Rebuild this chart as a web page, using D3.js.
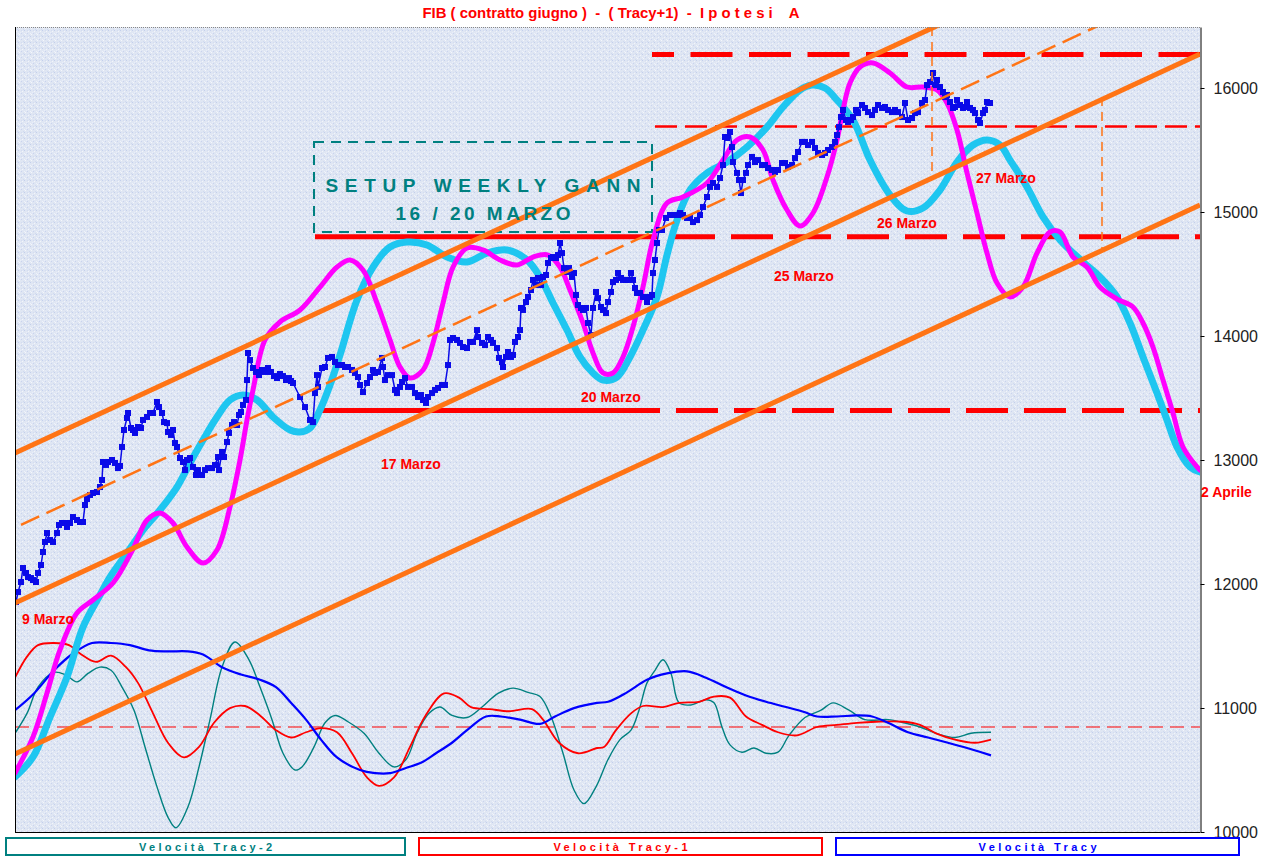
<!DOCTYPE html>
<html><head><meta charset="utf-8">
<script src="https://cdn.jsdelivr.net/npm/d3@7"></script>
<style>body{margin:0;background:#fff;}svg{display:block}.pre{white-space:pre}</style>
</head><body>
<svg id="c" width="1273" height="859"></svg>
<script>
// ---------- DATA (t = time index, v = FIB points) ----------
const yTicks = [10000, 11000, 12000, 13000, 14000, 15000, 16000];

const price = [[1,11855],[3,11935],[6,12016],[8,12129],[11,12089],[13,12056],[16,12048],[18,12032],[21,12016],[23,12089],[26,12153],[28,12258],[30,12339],[32,12411],[35,12355],[38,12339],[42,12411],[44,12476],[47,12492],[50,12492],[52,12460],[55,12492],[58,12540],[62,12516],[65,12500],[68,12500],[70,12637],[72,12685],[75,12718],[78,12734],[82,12742],[85,12782],[87,12839],[88,12984],[91,12960],[93,12984],[97,13000],[100,12976],[103,12935],[105,12952],[107,13105],[109,13242],[112,13339],[113,13379],[116,13258],[118,13242],[120,13218],[123,13266],[126,13258],[128,13323],[132,13347],[135,13379],[138,13379],[142,13468],[144,13427],[147,13379],[149,13306],[152,13298],[153,13226],[156,13202],[158,13242],[160,13137],[162,13105],[165,13016],[168,12984],[170,12919],[172,13000],[175,13016],[178,12944],[181,12879],[183,12919],[187,12879],[190,12919],[193,12935],[197,12935],[200,12960],[203,13024],[204,12919],[207,13065],[209,13024],[212,13145],[214,13218],[217,13282],[219,13306],[222,13282],[224,13363],[226,13387],[228,13444],[231,13484],[232,13645],[233,13863],[235,13806],[238,13742],[241,13710],[244,13685],[247,13726],[250,13710],[253,13742],[256,13710],[259,13677],[262,13661],[265,13694],[268,13677],[271,13645],[274,13661],[276,13637],[278,13621],[285,13508],[290,13427],[295,13323],[298,13306],[300,13540],[302,13685],[303,13589],[307,13742],[310,13750],[313,13823],[317,13831],[320,13790],[323,13766],[327,13766],[330,13750],[333,13750],[337,13726],[340,13702],[343,13669],[345,13605],[348,13548],[352,13621],[355,13669],[358,13726],[360,13702],[363,13710],[367,13823],[368,13750],[370,13645],[373,13685],[377,13685],[380,13565],[382,13540],[385,13589],[387,13629],[390,13661],[393,13589],[397,13589],[400,13540],[403,13508],[406,13524],[408,13484],[411,13460],[413,13508],[417,13540],[420,13565],[423,13581],[427,13605],[430,13605],[433,13766],[435,13968],[438,13984],[442,13968],[445,13944],[448,13911],[452,13903],[455,13952],[458,13952],[462,14048],[463,13992],[467,13944],[470,13927],[473,13992],[476,13968],[478,13944],[482,13903],[484,13823],[487,13790],[488,13750],[491,13831],[493,13871],[496,13831],[498,13847],[500,13952],[503,13992],[505,14048],[506,14226],[508,14210],[511,14274],[513,14315],[516,14371],[518,14452],[521,14411],[523,14468],[526,14411],[528,14476],[531,14492],[533,14589],[536,14629],[538,14637],[541,14629],[543,14653],[545,14750],[547,14669],[549,14548],[552,14516],[554,14548],[557,14476],[559,14508],[561,14331],[563,14250],[566,14226],[568,14210],[571,14226],[573,14105],[576,14008],[578,14226],[581,14355],[583,14306],[586,14234],[588,14210],[591,14185],[593,14274],[596,14355],[598,14435],[601,14452],[603,14508],[606,14468],[608,14452],[611,14452],[613,14452],[616,14508],[618,14452],[620,14387],[622,14347],[625,14347],[628,14315],[630,14315],[632,14274],[635,14315],[637,14331],[638,14508],[640,14613],[642,14750],[644,14855],[647,14855],[651,14952],[655,14976],[658,14976],[662,14976],[665,14992],[668,14976],[672,14952],[675,14952],[678,14919],[682,14935],[685,14976],[688,15040],[692,15121],[695,15202],[698,15234],[702,15202],[705,15274],[708,15379],[710,15605],[712,15597],[715,15645],[717,15524],[718,15403],[722,15315],[724,15258],[726,15153],[728,15258],[731,15315],[733,15379],[737,15444],[740,15403],[743,15419],[747,15379],[750,15379],[753,15355],[757,15339],[760,15323],[763,15339],[767,15395],[770,15395],[773,15363],[777,15379],[780,15435],[783,15484],[787,15565],[790,15565],[793,15540],[797,15565],[800,15516],[803,15476],[807,15460],[810,15476],[813,15500],[817,15524],[820,15565],[822,15621],[824,15685],[826,15766],[828,15823],[831,15742],[833,15726],[836,15742],[838,15766],[841,15823],[843,15798],[847,15863],[850,15839],[853,15806],[857,15782],[860,15823],[863,15863],[867,15839],[870,15847],[873,15823],[877,15806],[880,15823],[883,15806],[887,15766],[890,15879],[893,15742],[897,15758],[900,15798],[903,15806],[907,15879],[910,15903],[912,16024],[915,16048],[918,16121],[920,16024],[922,16065],[925,16008],[928,15968],[930,15927],[932,15944],[935,15887],[938,15839],[940,15847],[942,15903],[945,15863],[948,15839],[950,15847],[952,15887],[955,15839],[958,15823],[960,15798],[963,15742],[965,15718],[968,15798],[970,15823],[972,15887],[975,15879]];

const tracyCyan = [[0,10444],[18,10605],[35,10927],[52,11250],[68,11653],[85,11911],[95,12056],[112,12250],[128,12435],[145,12597],[162,12782],[175,12976],[188,13161],[202,13347],[215,13484],[228,13524],[242,13484],[258,13347],[275,13242],[285,13226],[295,13258],[305,13403],[315,13605],[325,13847],[342,14290],[358,14556],[375,14718],[392,14758],[412,14734],[432,14637],[452,14597],[472,14669],[492,14694],[512,14613],[525,14476],[538,14266],[552,14048],[565,13831],[578,13702],[588,13645],[602,13669],[615,13831],[628,14048],[642,14315],[652,14653],[662,14935],[675,15177],[692,15315],[712,15403],[732,15524],[752,15685],[768,15847],[785,15984],[797,16024],[810,16000],[822,15903],[838,15742],[855,15419],[875,15137],[892,15008],[908,15032],[925,15177],[942,15403],[958,15540],[972,15581],[985,15540],[995,15419],[1012,15202],[1028,14960],[1045,14774],[1068,14597],[1085,14476],[1102,14315],[1115,14105],[1128,13831],[1142,13540],[1152,13323],[1162,13105],[1175,12944],[1185,12903]];

const tracyMagenta = [[0,10476],[18,10766],[32,11121],[45,11468],[62,11766],[78,11871],[98,12008],[118,12282],[132,12516],[145,12573],[158,12492],[172,12298],[188,12169],[202,12274],[215,12621],[225,13000],[232,13323],[238,13565],[250,13968],[265,14113],[285,14210],[305,14395],[322,14556],[335,14613],[348,14532],[362,14266],[375,13968],[385,13750],[395,13661],[408,13726],[418,13944],[428,14266],[438,14556],[452,14710],[468,14694],[485,14613],[502,14573],[518,14637],[533,14653],[545,14556],[555,14371],[568,14105],[578,13863],[588,13702],[598,13702],[608,13831],[618,14073],[628,14395],[638,14774],[652,15073],[668,15121],[692,15234],[708,15419],[722,15581],[735,15605],[748,15500],[758,15258],[772,15016],[785,14887],[798,14992],[812,15282],[822,15581],[828,15823],[835,16040],[845,16169],[858,16202],[875,16121],[892,16008],[908,16008],[922,15984],[932,15879],[942,15661],[952,15315],[962,14992],[972,14669],[982,14427],[995,14315],[1008,14395],[1022,14669],[1035,14839],[1045,14839],[1058,14637],[1072,14556],[1085,14395],[1102,14298],[1118,14234],[1128,14105],[1138,13911],[1148,13645],[1158,13379],[1168,13105],[1182,12944],[1185,12919]];

const velTracy = [[0,0.16],[19,0.32],[39,0.54],[58,0.70],[77,0.80],[96,0.80],[115,0.78],[134,0.73],[153,0.72],[173,0.72],[188,0.69],[207,0.57],[226,0.50],[245,0.45],[261,0.38],[276,0.23],[291,0.07],[306,-0.12],[322,-0.29],[345,-0.41],[360,-0.44],[375,-0.44],[391,-0.39],[406,-0.34],[421,-0.25],[437,-0.15],[452,-0.03],[471,0.10],[486,0.10],[505,0.07],[525,0.03],[540,0.10],[559,0.18],[582,0.23],[593,0.24],[612,0.33],[632,0.45],[652,0.51],[672,0.53],[691,0.47],[711,0.38],[731,0.30],[751,0.24],[771,0.19],[790,0.14],[802,0.10],[822,0.10],[842,0.11],[857,0.10],[873,0.04],[893,-0.05],[913,-0.10],[933,-0.15],[952,-0.20],[976,-0.27]];

const velTracy1 = [[0,0.47],[12,0.67],[23,0.78],[39,0.80],[54,0.78],[65,0.70],[81,0.62],[96,0.68],[111,0.57],[123,0.42],[138,0.13],[153,-0.15],[169,-0.29],[184,-0.19],[199,0.04],[215,0.18],[230,0.20],[245,0.11],[261,-0.03],[276,-0.10],[291,-0.05],[306,-0.01],[322,-0.05],[337,-0.25],[352,-0.48],[364,-0.56],[379,-0.48],[395,-0.19],[410,0.10],[429,0.32],[444,0.28],[456,0.19],[475,0.17],[494,0.15],[517,0.17],[528,0.07],[544,-0.15],[563,-0.25],[582,-0.20],[589,-0.19],[601,-0.03],[616,0.13],[628,0.20],[648,0.19],[664,0.23],[684,0.24],[699,0.29],[715,0.28],[731,0.10],[747,0.02],[763,-0.05],[782,-0.08],[802,0.00],[822,0.02],[842,0.04],[861,0.05],[889,0.05],[905,0.02],[921,-0.06],[940,-0.12],[960,-0.15],[976,-0.12]];

const velTracy2 = [[0,-0.06],[12,0.13],[23,0.38],[39,0.52],[50,0.50],[62,0.43],[73,0.51],[85,0.57],[96,0.54],[107,0.38],[119,0.16],[130,-0.19],[142,-0.57],[153,-0.86],[161,-0.96],[173,-0.76],[184,-0.38],[195,0.07],[207,0.57],[220,0.81],[234,0.64],[245,0.38],[257,0.07],[268,-0.25],[280,-0.41],[287,-0.38],[299,-0.19],[310,0.04],[320,0.11],[333,0.05],[349,-0.06],[364,-0.25],[379,-0.38],[391,-0.31],[402,-0.06],[414,0.13],[425,0.19],[437,0.11],[452,0.09],[467,0.19],[483,0.32],[498,0.37],[513,0.33],[525,0.29],[536,0.10],[548,-0.25],[559,-0.60],[569,-0.73],[581,-0.57],[593,-0.31],[605,-0.12],[616,-0.03],[624,0.16],[632,0.42],[640,0.54],[648,0.64],[656,0.51],[664,0.23],[676,0.21],[691,0.26],[699,0.23],[707,0.00],[715,-0.17],[727,-0.24],[739,-0.20],[751,-0.25],[763,-0.24],[774,-0.08],[790,0.09],[806,0.16],[818,0.23],[834,0.16],[850,0.07],[873,0.07],[889,0.04],[905,0.00],[921,-0.06],[940,-0.10],[956,-0.06],[976,-0.05]];

// Gann channel (parallel lines) and middle dashed line
const channelUpper = [[0,13056],[1185,17484]];
const channelMid   = [[0,11847],[1185,16274]];
const channelLow   = [[0,10629],[1185,15056]];
const channelDash  = [[6,12477],[1185,16882]];
// red support/resistance levels
const levelsSolidThenDash = [{v:14800, from:300, solidTo:642}, {v:13400, from:305, solidTo:645}];
const levelsDashedThick = [{v:16270, from:637}];
const levelsDashedThin  = [{v:15690, from:640}];
// orange vertical markers
const verticals = [{t:917, v0:16492, v1:15282}, {t:1087, v0:15927, v1:14710}];
// date labels
const dateLabels = [
  {text:"9 Marzo", t:7, v:11677},
  {text:"17 Marzo", t:366, v:12927},
  {text:"20 Marzo", t:566, v:13468},
  {text:"25 Marzo", t:759, v:14444},
  {text:"26 Marzo", t:862, v:14871},
  {text:"27 Marzo", t:961, v:15234},
  {text:"2 Aprile", t:1186, v:12702}
];
const setupBox = {t0:299, t1:637, v0:15565, v1:14839, line1:"SETUP WEEKLY GANN", line2:"16 / 20 MARZO", tc:468, b1:15161, b2:14935};
const legendItems = [
  {label:"Velocità Tracy-2", color:"#008080"},
  {label:"Velocità Tracy-1", color:"#ff0000"},
  {label:"Velocità Tracy", color:"#0000ff"}
];
const title = "FIB ( contratto giugno )  -  ( Tracy+1)  -  I p o t e s i    A";

// ---------- CHART ----------
const svg = d3.select("#c");
const L = 15, R = 1200, T = 27, B = 832;
const x = d3.scaleLinear().domain([0, 1185]).range([L, R]);
const y = d3.scaleLinear().domain([10000, 16492]).range([B, T]);
const yv = d3.scaleLinear().domain([-1, 1]).range([B, 622]);
const FONT = "'Liberation Sans', Arial, sans-serif";

const defs = svg.append("defs");
const pat = defs.append("pattern").attr("id","tex").attr("width",6).attr("height",6).attr("patternUnits","userSpaceOnUse");
pat.append("rect").attr("width",6).attr("height",6).attr("fill","#dfe6f3");
[[0,0,"#c3cfec"],[3,3,"#c9d3ef"],[1,4,"#f4f6fc"],[4,1,"#f2f5fb"],[2,2,"#e9eef9"],[5,5,"#d0daf0"],[0,3,"#eef2fa"],[3,0,"#d3dcf1"]].forEach(d=>
  pat.append("rect").attr("x",d[0]).attr("y",d[1]).attr("width",1).attr("height",1).attr("fill",d[2]));
defs.append("clipPath").attr("id","clip").append("rect").attr("x",L).attr("y",T).attr("width",R-L).attr("height",B-T);

svg.append("rect").attr("x",L).attr("y",T).attr("width",R-L).attr("height",B-T).attr("fill","url(#tex)");

// title
svg.append("text").attr("class","pre").attr("x",611).attr("y",18).attr("text-anchor","middle")
  .attr("font-family",FONT).attr("font-weight","bold").attr("font-size",14).attr("fill","#ff0000")
  .attr("textLength",377).attr("lengthAdjust","spacingAndGlyphs").text(title);

const g = svg.append("g").attr("clip-path","url(#clip)");

const lineP = d3.line().x(d=>x(d[0])).y(d=>y(d[1]));
const lineC = d3.line().x(d=>x(d[0])).y(d=>y(d[1])).curve(d3.curveCatmullRom.alpha(0.5));
const lineV = d3.line().x(d=>x(d[0])).y(d=>yv(d[1])).curve(d3.curveCatmullRom.alpha(0.5));

// velocity zero line
g.append("line").attr("x1",x(0)).attr("x2",x(1185)).attr("y1",yv(0)).attr("y2",yv(0))
  .attr("stroke","#ff0000").attr("stroke-width",1).attr("stroke-dasharray","14,7");

// oscillators
g.append("path").datum(velTracy2).attr("d",lineV).attr("fill","none").attr("stroke","#008080").attr("stroke-width",1.4);
g.append("path").datum(velTracy1).attr("d",lineV).attr("fill","none").attr("stroke","#ff0000").attr("stroke-width",1.8);
g.append("path").datum(velTracy).attr("d",lineV).attr("fill","none").attr("stroke","#0000ff").attr("stroke-width",2.2);

// red levels
levelsSolidThenDash.forEach(l=>{
  g.append("line").attr("x1",x(l.from)).attr("x2",x(l.solidTo)).attr("y1",y(l.v)).attr("y2",y(l.v))
    .attr("stroke","#ff0000").attr("stroke-width",5);
  g.append("line").attr("x1",x(l.solidTo)).attr("x2",x(1185)).attr("y1",y(l.v)).attr("y2",y(l.v))
    .attr("stroke","#ff0000").attr("stroke-width",5).attr("stroke-dasharray","0,16,42,0");
});
levelsDashedThick.forEach(l=>{
  g.append("line").attr("x1",x(l.from)).attr("x2",x(1185)).attr("y1",y(l.v)).attr("y2",y(l.v))
    .attr("stroke","#ff0000").attr("stroke-width",5).attr("stroke-dasharray","42,16.5").attr("stroke-dashoffset",20);
});
levelsDashedThin.forEach(l=>{
  g.append("line").attr("x1",x(l.from)).attr("x2",x(1185)).attr("y1",y(l.v)).attr("y2",y(l.v))
    .attr("stroke","#ff0000").attr("stroke-width",2.5).attr("stroke-dasharray","22,8");
});

// setup box
g.append("rect").attr("x",x(setupBox.t0)).attr("y",y(setupBox.v0))
  .attr("width",x(setupBox.t1)-x(setupBox.t0)).attr("height",y(setupBox.v1)-y(setupBox.v0))
  .attr("fill","none").attr("stroke","#008080").attr("stroke-width",2).attr("stroke-dasharray","10,7");
svg.append("text").attr("x",x(setupBox.tc)).attr("y",y(setupBox.b1)).attr("text-anchor","middle")
  .attr("font-family",FONT).attr("font-weight","bold").attr("font-size",19).attr("fill","#008080")
  .attr("textLength",315).attr("lengthAdjust","spacing").text(setupBox.line1);
svg.append("text").attr("x",x(setupBox.tc)).attr("y",y(setupBox.b2)).attr("text-anchor","middle")
  .attr("font-family",FONT).attr("font-weight","bold").attr("font-size",19).attr("fill","#008080")
  .attr("textLength",175).attr("lengthAdjust","spacing").text(setupBox.line2);

// tracy curves
g.append("path").datum(tracyCyan).attr("d",lineC).attr("fill","none").attr("stroke","#1ec6f0")
  .attr("stroke-width",7).attr("stroke-linecap","round").attr("stroke-linejoin","round");
g.append("path").datum(tracyMagenta).attr("d",lineC).attr("fill","none").attr("stroke","#ff00ff")
  .attr("stroke-width",5).attr("stroke-linecap","round").attr("stroke-linejoin","round");

// price
g.append("path").datum(price).attr("d",lineP).attr("fill","none").attr("stroke","#0a0ae8").attr("stroke-width",1.5);
g.selectAll("rect.pt").data(price).join("rect").attr("class","pt")
  .attr("x",d=>x(d[0])-3).attr("y",d=>y(d[1])-3).attr("width",6).attr("height",6).attr("fill","#0a0ae8");

// orange channel
const OR = "#ff7415";
[channelUpper, channelMid, channelLow].forEach(c=>
  g.append("path").datum(c).attr("d",lineP).attr("fill","none").attr("stroke",OR).attr("stroke-width",5));
g.append("path").datum(channelDash).attr("d",lineP).attr("fill","none").attr("stroke",OR).attr("stroke-width",2.5).attr("stroke-dasharray","20,8");
verticals.forEach(vl=>
  g.append("line").attr("x1",x(vl.t)).attr("x2",x(vl.t)).attr("y1",y(vl.v0)).attr("y2",y(vl.v1))
   .attr("stroke",OR).attr("stroke-width",1.5).attr("stroke-dasharray","9,6"));

// frame
svg.append("line").attr("x1",L).attr("x2",R).attr("y1",T+0.5).attr("y2",T+0.5).attr("stroke","#888").attr("stroke-dasharray","1,1");
svg.append("line").attr("x1",L+0.5).attr("x2",L+0.5).attr("y1",T).attr("y2",B).attr("stroke","#000");
svg.append("line").attr("x1",L).attr("x2",R).attr("y1",B+0.5).attr("y2",B+0.5).attr("stroke","#000");

// right axis
const ax = svg.append("g").attr("transform",`translate(${R+0.5},0)`)
  .call(d3.axisRight(y).tickValues(yTicks).tickSize(4).tickSizeOuter(0).tickPadding(9).tickFormat(d3.format("d")));
ax.selectAll("text").attr("font-family",FONT).attr("font-size",16).attr("fill","#222");
ax.select(".domain").attr("stroke","#000");
ax.selectAll(".tick line").attr("stroke","#000");

// date labels
svg.selectAll("text.lbl").data(dateLabels).join("text").attr("class","lbl")
  .attr("x",d=>x(d.t)).attr("y",d=>y(d.v)).attr("font-family",FONT).attr("font-weight","bold")
  .attr("font-size",14).attr("fill","#ff0000").text(d=>d.text);

// legend
const lg = [{x0:5,x1:406},{x0:418,x1:823},{x0:835,x1:1240}];
legendItems.forEach((it,i)=>{
  svg.append("rect").attr("x",lg[i].x0+1).attr("y",838).attr("width",lg[i].x1-lg[i].x0-2).attr("height",17)
    .attr("fill","#fff").attr("stroke",it.color).attr("stroke-width",2);
  const w = [133,134,118][i];
  svg.append("text").attr("x",(lg[i].x0+lg[i].x1)/2).attr("y",851).attr("text-anchor","middle")
    .attr("font-family",FONT).attr("font-weight","bold").attr("font-size",11).attr("fill",it.color)
    .attr("textLength",w).attr("lengthAdjust","spacing").text(it.label);
});
</script>
</body></html>
